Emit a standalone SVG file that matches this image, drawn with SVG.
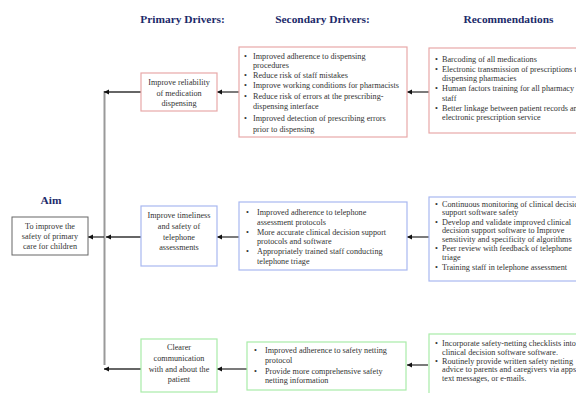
<svg xmlns="http://www.w3.org/2000/svg" width="576" height="393" viewBox="0 0 576 393">
<style>
.hd{font-family:"Liberation Serif",serif;font-weight:bold;font-size:11.4px;fill:#1c2a6a}
.t{font-family:"Liberation Serif",serif;font-size:8.2px;fill:#333}
.r{font-family:"Liberation Serif",serif;font-size:8.2px;fill:#333}
.c{text-anchor:middle}
.pink{fill:#fff;stroke:#e8a8a8;stroke-width:1.2}
.blue{fill:#fff;stroke:#a8b8f0;stroke-width:1.2}
.green{fill:#fff;stroke:#a8eca8;stroke-width:1.2}
.box{fill:#fff;stroke:#666;stroke-width:1}
.ar{stroke:#333;stroke-width:1.3;fill:none;marker-end:url(#ah)}
</style>
<defs>
<marker id="ah" markerWidth="6" markerHeight="6" refX="5" refY="3" orient="auto" markerUnits="userSpaceOnUse">
<path d="M0,0.5 L5,3 L0,5.5 Z" fill="#111"/>
</marker>
</defs>
<rect width="576" height="393" fill="#fff"/>
<g id="headers">
<text class="hd c" x="182.5" y="23">Primary Drivers:</text>
<text class="hd c" x="322.5" y="23">Secondary Drivers:</text>
<text class="hd c" x="508.5" y="23">Recommendations</text>
<text class="hd c" x="51" y="204">Aim</text>
</g>
<g id="connectors">
<line x1="104.5" y1="91" x2="104.5" y2="365" stroke="#999" stroke-width="2"/>
<line class="ar" x1="141" y1="92" x2="104" y2="92"/>
<line class="ar" x1="239" y1="92" x2="217" y2="92"/>
<line class="ar" x1="429" y1="92" x2="407" y2="92"/>
<line class="ar" x1="141" y1="237" x2="106" y2="237"/>
<line class="ar" x1="104" y1="237" x2="88" y2="237"/>
<line class="ar" x1="239" y1="237" x2="217" y2="237"/>
<line class="ar" x1="429" y1="237" x2="407" y2="237"/>
<line class="ar" x1="141" y1="369" x2="104" y2="369"/>
<line class="ar" x1="247" y1="369" x2="217" y2="369"/>
<line class="ar" x1="428" y1="365" x2="407" y2="365"/>
</g>
<g id="aim">
<rect class="box" x="12" y="217" width="76" height="38"/>
<text class="t c" x="50" y="229">To improve the</text>
<text class="t c" x="50" y="239">safety of primary</text>
<text class="t c" x="50" y="249">care for children</text>
</g>
<g id="p1">
<rect class="pink" x="141" y="73" width="76" height="38"/>
<text class="t c" x="179" y="85">Improve reliability</text>
<text class="t c" x="179" y="95.5">of medication</text>
<text class="t c" x="179" y="106">dispensing</text>
</g>
<g id="p2">
<rect class="blue" x="141" y="206" width="76" height="60"/>
<text class="t c" x="179" y="218">Improve timeliness</text>
<text class="t c" x="179" y="229">and safety of</text>
<text class="t c" x="179" y="239.5">telephone</text>
<text class="t c" x="179" y="250">assessments</text>
</g>
<g id="p3">
<rect class="green" x="141" y="339" width="76" height="53"/>
<text class="t c" x="179" y="350">Clearer</text>
<text class="t c" x="179" y="361">communication</text>
<text class="t c" x="179" y="371.5">with and about the</text>
<text class="t c" x="179" y="382">patient</text>
</g>
<g id="s1">
<rect class="pink" x="239" y="47" width="168" height="90"/>
<g class="t">
<text x="244" y="58.5">•</text><text x="253" y="58.5">Improved adherence to dispensing</text>
<text x="253" y="68">procedures</text>
<text x="244" y="78">•</text><text x="253" y="78">Reduce risk of staff mistakes</text>
<text x="244" y="88">•</text><text x="253" y="88">Improve working conditions for pharmacists</text>
<text x="244" y="98.5">•</text><text x="253" y="98.5">Reduce risk of errors at the prescribing-</text>
<text x="253" y="109">dispensing interface</text>
<text x="244" y="120.5">•</text><text x="253" y="120.5">Improved detection of prescribing errors</text>
<text x="253" y="131.5">prior to dispensing</text>
</g>
</g>
<g id="s2">
<rect class="blue" x="239" y="202" width="168" height="68"/>
<g class="t">
<text x="246" y="215">•</text><text x="257" y="215">Improved adherence to telephone</text>
<text x="257" y="224.5">assessment protocols</text>
<text x="246" y="234.5">•</text><text x="257" y="234.5">More accurate clinical decision support</text>
<text x="257" y="244">protocols and software</text>
<text x="246" y="254">•</text><text x="257" y="254">Appropriately trained staff conducting</text>
<text x="257" y="263.5">telephone triage</text>
</g>
</g>
<g id="s3">
<rect class="green" x="247" y="342" width="159" height="48"/>
<g class="t">
<text x="254" y="353">•</text><text x="265" y="353">Improved adherence to safety netting</text>
<text x="265" y="362.5">protocol</text>
<text x="254" y="373.5">•</text><text x="265" y="373.5">Provide more comprehensive safety</text>
<text x="265" y="383">netting information</text>
</g>
</g>
<g id="r1">
<rect class="pink" x="429" y="48" width="160" height="85"/>
<g class="r">
<text x="435" y="62">•</text><text x="442" y="62">Barcoding of all medications</text>
<text x="435" y="71.5">•</text><text x="442" y="71.5">Electronic transmission of prescriptions to</text>
<text x="442" y="81">dispensing pharmacies</text>
<text x="435" y="91">•</text><text x="442" y="91">Human factors training for all pharmacy</text>
<text x="442" y="100.5">staff</text>
<text x="435" y="110.5">•</text><text x="442" y="110.5">Better linkage between patient records and</text>
<text x="442" y="120">electronic prescription service</text>
</g>
</g>
<g id="r2">
<rect class="blue" x="429" y="197" width="160" height="84"/>
<g class="r">
<text x="435" y="206.5">•</text><text x="442" y="206.5">Continuous monitoring of clinical decision</text>
<text x="442" y="215">support software safety</text>
<text x="435" y="224.5">•</text><text x="442" y="224.5">Develop and validate improved clinical</text>
<text x="442" y="233">decision support software to Improve</text>
<text x="442" y="241.5">sensitivity and specificity of algorithms</text>
<text x="435" y="251">•</text><text x="442" y="251">Peer review with feedback of telephone</text>
<text x="442" y="259.5">triage</text>
<text x="435" y="269.5">•</text><text x="442" y="269.5">Training staff in telephone assessment</text>
</g>
</g>
<g id="r3">
<rect class="green" x="429" y="334" width="160" height="70"/>
<g class="r">
<text x="435" y="346">•</text><text x="442" y="346">Incorporate safety-netting checklists into</text>
<text x="442" y="354.5">clinical decision software software.</text>
<text x="435" y="363.5">•</text><text x="442" y="363.5">Routinely provide written safety netting</text>
<text x="442" y="372">advice to parents and caregivers via apps,</text>
<text x="442" y="380.5">text messages, or e-mails.</text>
</g>
</g>
</svg>
